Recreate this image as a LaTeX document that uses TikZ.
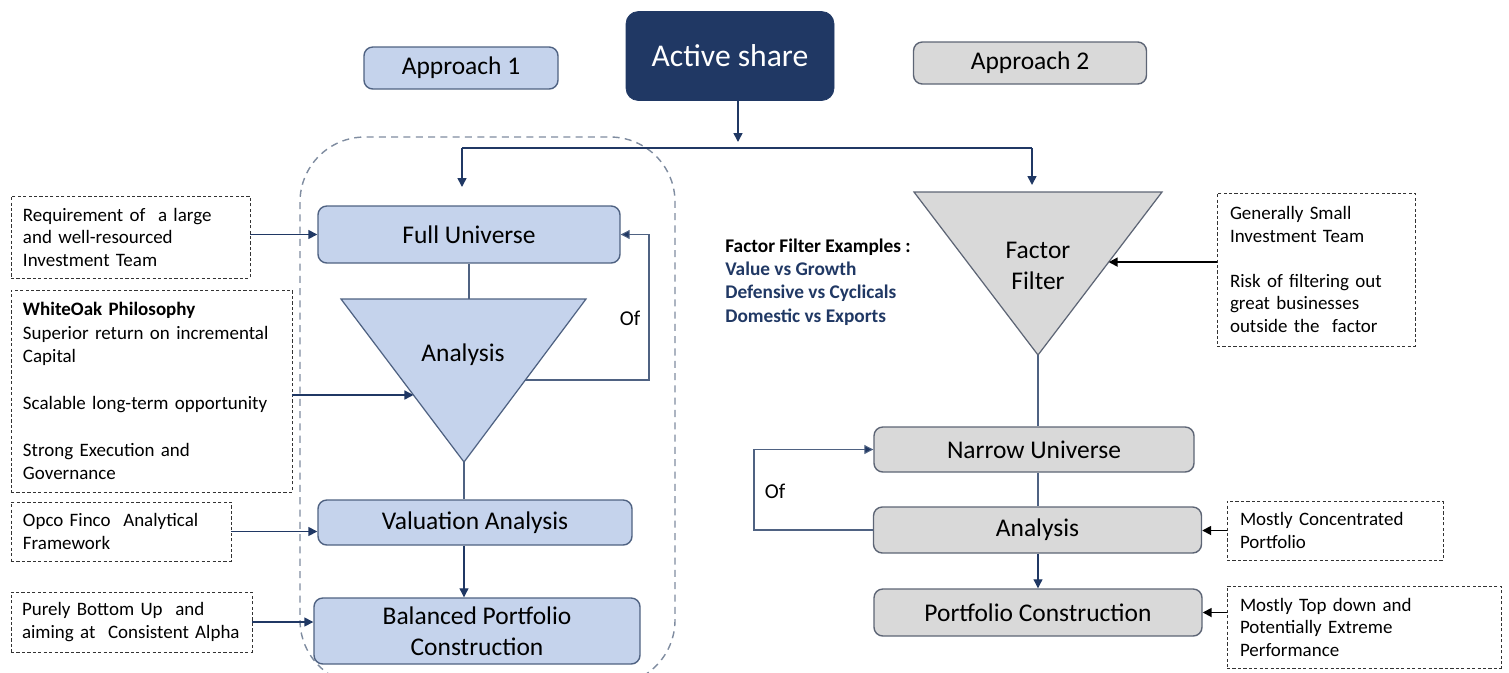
\documentclass[tikz,border=0pt]{standalone}
\usepackage{xcolor}
\usepackage{fontspec}
\setmainfont{Carlito}
\usepackage{tikz}
\usetikzlibrary{arrows.meta,calc}

\definecolor{navy}{HTML}{203864}
\definecolor{paleblue}{HTML}{C5D3EC}
\definecolor{blueedge}{HTML}{4F6282}
\definecolor{palegrey}{HTML}{D9D9D9}
\definecolor{greyedge}{HTML}{5D6575}
\definecolor{frameline}{HTML}{7F8CA0}

\tikzset{
  bluebox/.style={rectangle, rounded corners=5pt, draw=blueedge, fill=paleblue, line width=0.8pt, align=center, inner sep=0pt, font=\fontsize{14.5}{17.6}\selectfont},
  greybox/.style={bluebox, draw=greyedge, fill=palegrey},
  darkbox/.style={rectangle, rounded corners=7pt, draw=navy, fill=navy, text=white, inner sep=0pt, font=\fontsize{18}{21}\selectfont},
  note/.style={rectangle, draw=black!80, dash pattern=on 1.8pt off 1.3pt, line width=0.5pt, align=left, inner xsep=0.24cm, inner ysep=0pt, font=\fontsize{10.8}{12.8}\selectfont},
  funnel/.style={draw=blueedge, line width=0.7pt, line join=miter},
  flow/.style={->, navy, line width=0.9pt},
  link/.style={blueedge, line width=0.6pt},
  blackflow/.style={->, black, line width=1pt},
  >={Triangle[length=1.8mm, width=1.8mm]}
}

\begin{document}
\begin{tikzpicture}
        \useasboundingbox (0, 0) rectangle (30.18, -13.44);

        \node[darkbox, minimum width=4.16cm, minimum height=1.78cm] at (14.6, -1.12) (active) {Active share};
        \node[bluebox, minimum width=3.88cm, minimum height=0.84cm] at (9.22, -1.36) (app1) {Approach 1};
        \node[greybox, minimum width=4.66cm, minimum height=0.84cm] at (20.6, -1.26) (app2) {Approach 2};

        \draw[frameline, line width=0.8pt, dash pattern=on 4pt off 3pt, rounded corners=1.3cm] (6.0, -2.74) rectangle (13.5, -13.7);

        \coordinate (hub) at (14.76, -2.84);
        \coordinate (brL) at (9.24, -2.96);
        \coordinate (brR) at (20.64, -2.96);
        \coordinate (inL) at (9.24, -3.74);
        \coordinate (inR) at (20.64, -3.70);
        \draw[flow] (active.south -| hub) -- (hub);
        \draw[link, navy] (brL) -- (brR);
        \draw[flow] (brL) -- (inL);
        \draw[flow] (brR) -- (inR);

        \node[bluebox, minimum width=6.04cm, minimum height=1.14cm] at (9.38, -4.69) (full) {Full Universe};

        \coordinate (triA) at (6.82, -5.98);
        \coordinate (triB) at (11.72, -5.98);
        \coordinate (triC) at (9.28, -9.24);
        \draw[funnel, fill=paleblue] (triA) -- (triB) -- (triC) -- cycle;
        \node[font=\fontsize{14.5}{17.6}\selectfont] at (9.26, -7.1) (ana) {Analysis};

        \node[bluebox, minimum width=6.28cm, minimum height=0.9cm] at (9.5, -10.45) (val) {Valuation Analysis};
        \node[bluebox, minimum width=6.52cm, minimum height=1.32cm] at (9.54, -12.62) (bal) {Balanced Portfolio\\Construction};

        \draw[link] (full.south) -- (full.south |- triA);
        \draw[link] (triC) -- (triC |- val.north);
        \draw[flow, line width=0.6pt] (val.south -| triC) -- (bal.north -| triC);

        \coordinate (ofL) at ($(triB)!0.497!(triC)$);
        \coordinate (ofC) at (12.98, -4.69);
        \draw[link, ->, >={Triangle[length=1.8mm, width=1.8mm, fill=navy]}] (ofL) -| (ofC) -- (full.east);
        \node[font=\fontsize{12}{14}\selectfont] at (12.6, -6.36) (of1) {Of};

        \node[note, minimum width=4.78cm, minimum height=1.64cm, text width=4.3cm] at (2.61, -4.74) (req) {Requirement of\ \ a large\\and well-resourced\\Investment Team};
        \node[note, minimum width=5.62cm, minimum height=4.04cm, text width=5.14cm, font=\fontsize{10.8}{13.3}\selectfont] at (3.03, -7.82) (phil) {\textbf{WhiteOak Philosophy}\\Superior return on incremental\\Capital\\[13.3pt]Scalable long-term opportunity\\[13.3pt]Strong Execution and\\Governance};
        \node[note, minimum width=4.4cm, minimum height=1.18cm, text width=3.92cm] at (2.42, -10.63) (opco) {Opco Finco\ \ Analytical\\Framework};
        \node[note, minimum width=4.82cm, minimum height=1.2cm, text width=4.38cm, inner xsep=0.22cm] at (2.63, -12.44) (pure) {Purely Bottom Up\ \ and\\aiming at\ \ Consistent Alpha};

        \coordinate (anaIn) at ($(triA)!0.589!(triC)$);
        \draw[flow] (req.east |- full.west) -- (full.west);
        \draw[flow] (phil.east |- anaIn) -- (anaIn);
        \draw[flow] (opco.east) -- (opco.east -| val.west);
        \draw[flow] (pure.east) -- (pure.east -| bal.west);

        \node[anchor=west, align=left, inner sep=0pt, font=\fontsize{11}{13.3}\selectfont\bfseries] at (14.5, -5.64) (ffex) {Factor Filter Examples :\\\textcolor{navy}{Value vs Growth}\\\textcolor{navy}{Defensive vs Cyclicals}\\\textcolor{navy}{Domestic vs Exports}};

        \coordinate (ffA) at (18.28, -3.84);
        \coordinate (ffB) at (23.24, -3.84);
        \coordinate (ffC) at (20.76, -7.1);
        \draw[funnel, draw=greyedge, fill=palegrey] (ffA) -- (ffB) -- (ffC) -- cycle;
        \node[align=center, font=\fontsize{14.5}{17.6}\selectfont] at (20.76, -5.31) (ff) {Factor\\Filter};

        \node[note, minimum width=3.96cm, minimum height=3.06cm, text width=3.44cm, inner xsep=0.26cm] at (26.32, -5.39) (small) {Generally Small\\Investment Team\\[12.8pt]Risk of filtering out\\great businesses\\outside the\ \ factor};
        \coordinate (ffIn) at ($(ffB)!0.43!(ffC)$);
        \draw[blackflow] (small.west |- ffIn) -- (ffIn);

        \node[greybox, minimum width=6.4cm, minimum height=0.9cm] at (20.68, -8.99) (nar) {Narrow Universe};
        \node[greybox, minimum width=6.56cm, minimum height=0.92cm] at (20.75, -10.6) (ana2) {Analysis};
        \node[greybox, minimum width=6.56cm, minimum height=0.94cm] at (20.76, -12.25) (port) {Portfolio Construction};

        \draw[link] (ffC) -- (ffC |- nar.north);
        \draw[link] (nar.south -| ffC) -- (ana2.north -| ffC);
        \draw[flow, line width=0.6pt] (ana2.south -| ffC) -- (port.north -| ffC);

        \coordinate (ofR) at (15.08, -8.99);
        \draw[link, ->, >={Triangle[length=1.8mm, width=1.8mm, fill=navy]}] (ana2.west) -| (ofR) -- (nar.west);
        \node[font=\fontsize{12}{14}\selectfont] at (15.5, -9.82) (of2) {Of};

        \node[note, minimum width=4.32cm, minimum height=1.18cm, text width=3.8cm, inner xsep=0.26cm] at (26.7, -10.61) (conc) {Mostly Concentrated\\Portfolio};
        \node[note, minimum width=5.48cm, minimum height=1.64cm, text width=4.96cm, inner xsep=0.26cm] at (27.28, -12.54) (topd) {Mostly Top down and\\Potentially Extreme\\Performance};

        \draw[blackflow] (conc.west) -- (conc.west -| ana2.east);
        \draw[blackflow] (topd.west |- port.east) -- (port.east);
    \end{tikzpicture}
\end{document}
